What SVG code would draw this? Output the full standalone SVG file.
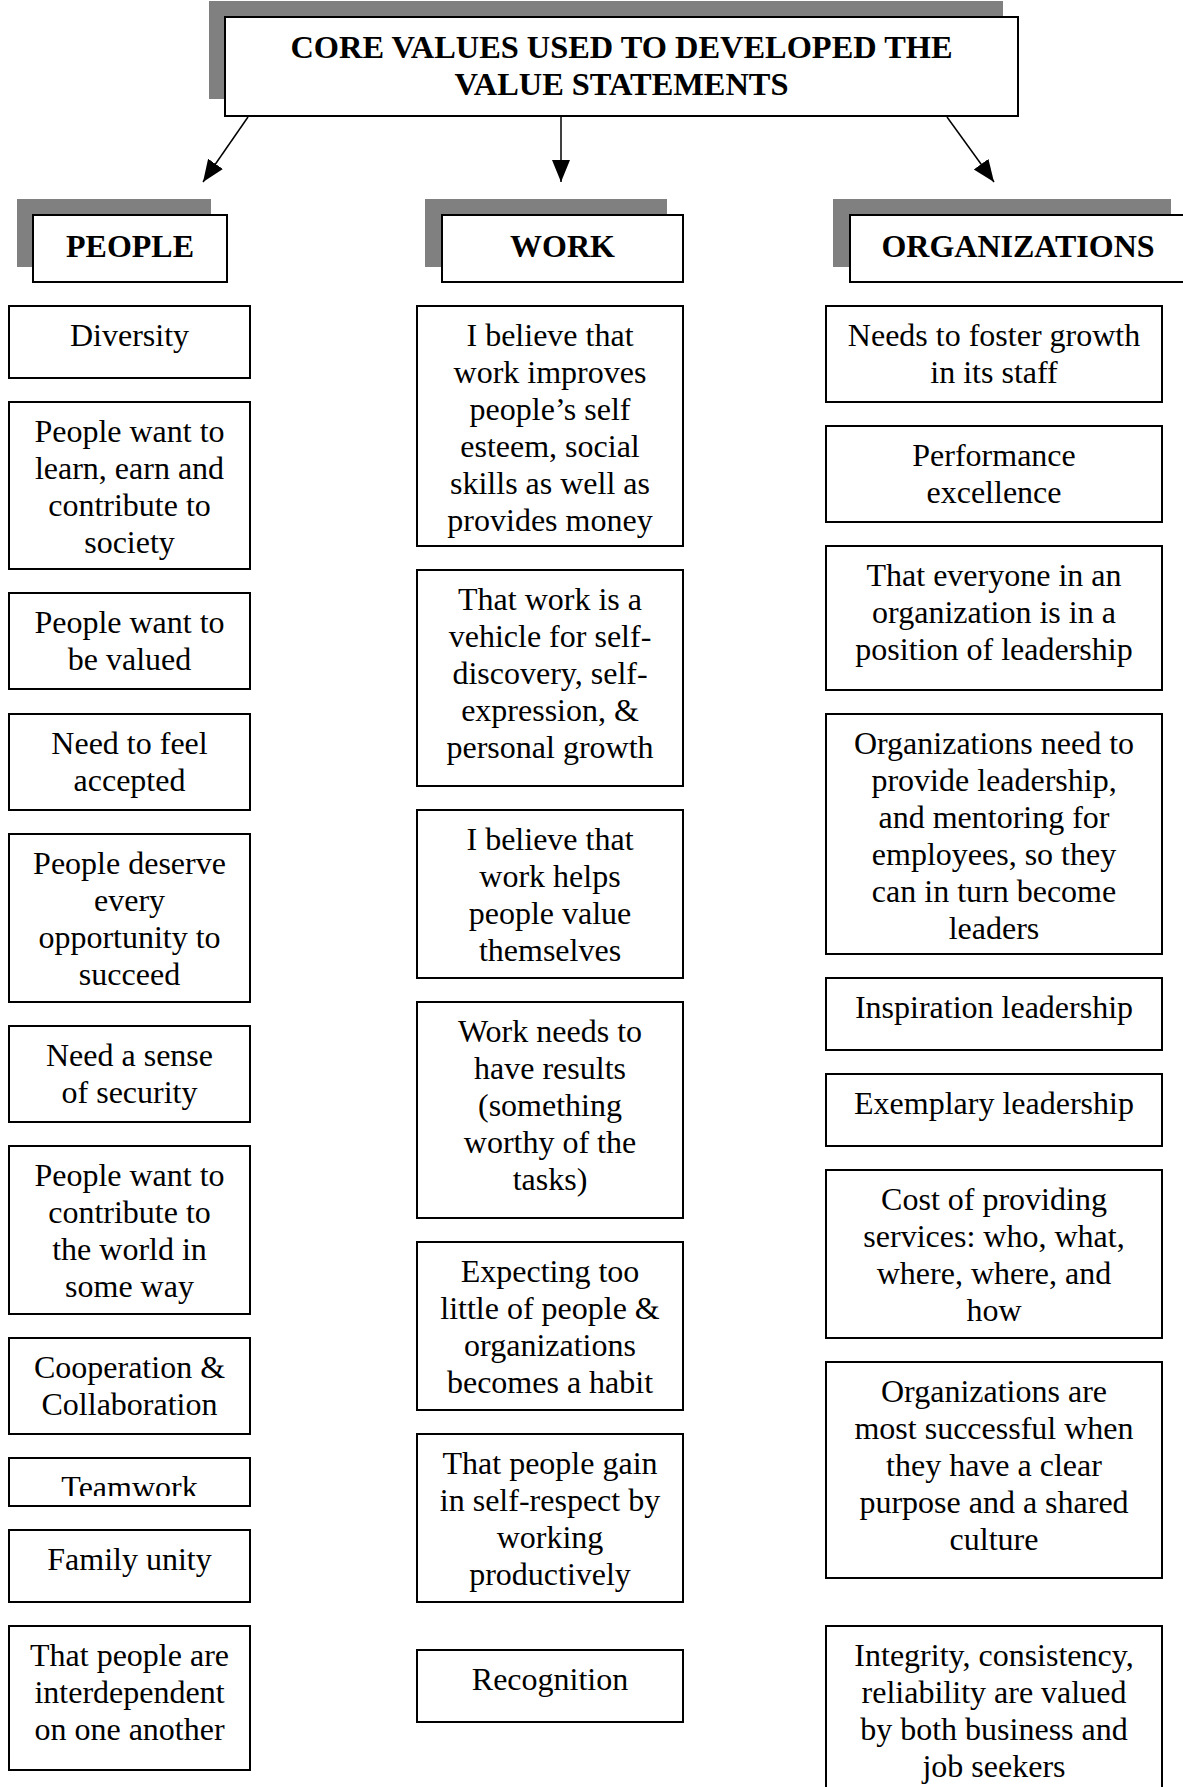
<svg xmlns="http://www.w3.org/2000/svg" width="1183" height="1787" viewBox="0 0 1183 1787">
<style>
.shadow{fill:#808080;stroke:none}
.box{fill:#fff;stroke:#000;stroke-width:2}
.t{font-family:"Liberation Serif","Times New Roman",serif;font-size:32px;fill:#000;text-anchor:middle}
.h{font-family:"Liberation Serif","Times New Roman",serif;font-size:32px;font-weight:bold;fill:#000;text-anchor:middle}
.conn{stroke:#000;stroke-width:1.5;fill:none}
</style>
<defs>
<marker id="arr" markerUnits="userSpaceOnUse" markerWidth="24" markerHeight="20" refX="22" refY="9" orient="auto">
<path d="M0,0 L22,9 L0,18 z" fill="#000"/>
</marker>
<clipPath id="clipTeam"><rect x="9" y="1458" width="241" height="38"/></clipPath>
</defs>

<g id="title">
<rect class="shadow" x="209" y="1" width="794" height="98"/>
<rect class="box" x="225" y="17" width="793" height="99"/>
<text class="h" x="621.5" y="58" style="font-size:32.4px">CORE VALUES USED TO DEVELOPED THE</text>
<text class="h" x="621.5" y="95" style="font-size:32.4px">VALUE STATEMENTS</text>
</g>

<g id="connectors">
<line class="conn" x1="248" y1="117" x2="203" y2="182" marker-end="url(#arr)"/>
<line class="conn" x1="561" y1="117" x2="561" y2="182" marker-end="url(#arr)"/>
<line class="conn" x1="947" y1="117" x2="994" y2="182" marker-end="url(#arr)"/>
</g>

<g id="hdr-people">
<rect class="shadow" x="17" y="199" width="194" height="68"/>
<rect class="box" x="33" y="215" width="194" height="67"/>
<text class="h" x="130" y="257">PEOPLE</text>
</g>
<g id="hdr-work">
<rect class="shadow" x="425" y="199" width="242" height="68"/>
<rect class="box" x="442" y="215" width="241" height="67"/>
<text class="h" x="562.5" y="257">WORK</text>
</g>
<g id="hdr-org">
<rect class="shadow" x="833" y="199" width="338" height="68"/>
<rect class="box" x="850" y="215" width="338" height="67"/>
<text class="h" x="1018" y="257">ORGANIZATIONS</text>
</g>

<!-- PEOPLE column -->
<g id="p1"><rect class="box" x="9" y="306" width="241" height="72"/>
<text class="t" x="129.5" y="346">Diversity</text></g>
<g id="p2"><rect class="box" x="9" y="402" width="241" height="167"/>
<text class="t" x="129.5" y="442">People want to<tspan x="129.5" dy="37">learn, earn and</tspan><tspan x="129.5" dy="37">contribute to</tspan><tspan x="129.5" dy="37">society</tspan></text></g>
<g id="p3"><rect class="box" x="9" y="593" width="241" height="96"/>
<text class="t" x="129.5" y="633">People want to<tspan x="129.5" dy="37">be valued</tspan></text></g>
<g id="p4"><rect class="box" x="9" y="714" width="241" height="96"/>
<text class="t" x="129.5" y="754">Need to feel<tspan x="129.5" dy="37">accepted</tspan></text></g>
<g id="p5"><rect class="box" x="9" y="834" width="241" height="168"/>
<text class="t" x="129.5" y="874">People deserve<tspan x="129.5" dy="37">every</tspan><tspan x="129.5" dy="37">opportunity to</tspan><tspan x="129.5" dy="37">succeed</tspan></text></g>
<g id="p6"><rect class="box" x="9" y="1026" width="241" height="96"/>
<text class="t" x="129.5" y="1066">Need a sense<tspan x="129.5" dy="37">of security</tspan></text></g>
<g id="p7"><rect class="box" x="9" y="1146" width="241" height="168"/>
<text class="t" x="129.5" y="1186">People want to<tspan x="129.5" dy="37">contribute to</tspan><tspan x="129.5" dy="37">the world in</tspan><tspan x="129.5" dy="37">some way</tspan></text></g>
<g id="p8"><rect class="box" x="9" y="1338" width="241" height="96"/>
<text class="t" x="129.5" y="1378">Cooperation &amp;<tspan x="129.5" dy="37">Collaboration</tspan></text></g>
<g id="p9"><rect class="box" x="9" y="1458" width="241" height="48"/>
<text class="t" x="129.5" y="1498" clip-path="url(#clipTeam)">Teamwork</text></g>
<g id="p10"><rect class="box" x="9" y="1530" width="241" height="72"/>
<text class="t" x="129.5" y="1570">Family unity</text></g>
<g id="p11"><rect class="box" x="9" y="1626" width="241" height="144"/>
<text class="t" x="129.5" y="1666">That people are<tspan x="129.5" dy="37">interdependent</tspan><tspan x="129.5" dy="37">on one another</tspan></text></g>

<!-- WORK column -->
<g id="w1"><rect class="box" x="417" y="306" width="266" height="240"/>
<text class="t" x="550" y="346">I believe that<tspan x="550" dy="37">work improves</tspan><tspan x="550" dy="37">people’s self</tspan><tspan x="550" dy="37">esteem, social</tspan><tspan x="550" dy="37">skills as well as</tspan><tspan x="550" dy="37">provides money</tspan></text></g>
<g id="w2"><rect class="box" x="417" y="570" width="266" height="216"/>
<text class="t" x="550" y="610">That work is a<tspan x="550" dy="37">vehicle for self-</tspan><tspan x="550" dy="37">discovery, self-</tspan><tspan x="550" dy="37">expression, &amp;</tspan><tspan x="550" dy="37">personal growth</tspan></text></g>
<g id="w3"><rect class="box" x="417" y="810" width="266" height="168"/>
<text class="t" x="550" y="850">I believe that<tspan x="550" dy="37">work helps</tspan><tspan x="550" dy="37">people value</tspan><tspan x="550" dy="37">themselves</tspan></text></g>
<g id="w4"><rect class="box" x="417" y="1002" width="266" height="216"/>
<text class="t" x="550" y="1042">Work needs to<tspan x="550" dy="37">have results</tspan><tspan x="550" dy="37">(something</tspan><tspan x="550" dy="37">worthy of the</tspan><tspan x="550" dy="37">tasks)</tspan></text></g>
<g id="w5"><rect class="box" x="417" y="1242" width="266" height="168"/>
<text class="t" x="550" y="1282">Expecting too<tspan x="550" dy="37">little of people &amp;</tspan><tspan x="550" dy="37">organizations</tspan><tspan x="550" dy="37">becomes a habit</tspan></text></g>
<g id="w6"><rect class="box" x="417" y="1434" width="266" height="168"/>
<text class="t" x="550" y="1474">That people gain<tspan x="550" dy="37">in self-respect by</tspan><tspan x="550" dy="37">working</tspan><tspan x="550" dy="37">productively</tspan></text></g>
<g id="w7"><rect class="box" x="417" y="1650" width="266" height="72"/>
<text class="t" x="550" y="1690">Recognition</text></g>

<!-- ORGANIZATIONS column -->
<g id="o1"><rect class="box" x="826" y="306" width="336" height="96"/>
<text class="t" x="994" y="346">Needs to foster growth<tspan x="994" dy="37">in its staff</tspan></text></g>
<g id="o2"><rect class="box" x="826" y="426" width="336" height="96"/>
<text class="t" x="994" y="466">Performance<tspan x="994" dy="37">excellence</tspan></text></g>
<g id="o3"><rect class="box" x="826" y="546" width="336" height="144"/>
<text class="t" x="994" y="586">That everyone in an<tspan x="994" dy="37">organization is in a</tspan><tspan x="994" dy="37">position of leadership</tspan></text></g>
<g id="o4"><rect class="box" x="826" y="714" width="336" height="240"/>
<text class="t" x="994" y="754">Organizations need to<tspan x="994" dy="37">provide leadership,</tspan><tspan x="994" dy="37">and mentoring for</tspan><tspan x="994" dy="37">employees, so they</tspan><tspan x="994" dy="37">can in turn become</tspan><tspan x="994" dy="37">leaders</tspan></text></g>
<g id="o5"><rect class="box" x="826" y="978" width="336" height="72"/>
<text class="t" x="994" y="1018">Inspiration leadership</text></g>
<g id="o6"><rect class="box" x="826" y="1074" width="336" height="72"/>
<text class="t" x="994" y="1114">Exemplary leadership</text></g>
<g id="o7"><rect class="box" x="826" y="1170" width="336" height="168"/>
<text class="t" x="994" y="1210">Cost of providing<tspan x="994" dy="37">services: who, what,</tspan><tspan x="994" dy="37">where, where, and</tspan><tspan x="994" dy="37">how</tspan></text></g>
<g id="o8"><rect class="box" x="826" y="1362" width="336" height="216"/>
<text class="t" x="994" y="1402">Organizations are<tspan x="994" dy="37">most successful when</tspan><tspan x="994" dy="37">they have a clear</tspan><tspan x="994" dy="37">purpose and a shared</tspan><tspan x="994" dy="37">culture</tspan></text></g>
<g id="o9"><rect class="box" x="826" y="1626" width="336" height="200"/>
<text class="t" x="994" y="1666">Integrity, consistency,<tspan x="994" dy="37">reliability are valued</tspan><tspan x="994" dy="37">by both business and</tspan><tspan x="994" dy="37">job seekers</tspan></text></g>
</svg>
